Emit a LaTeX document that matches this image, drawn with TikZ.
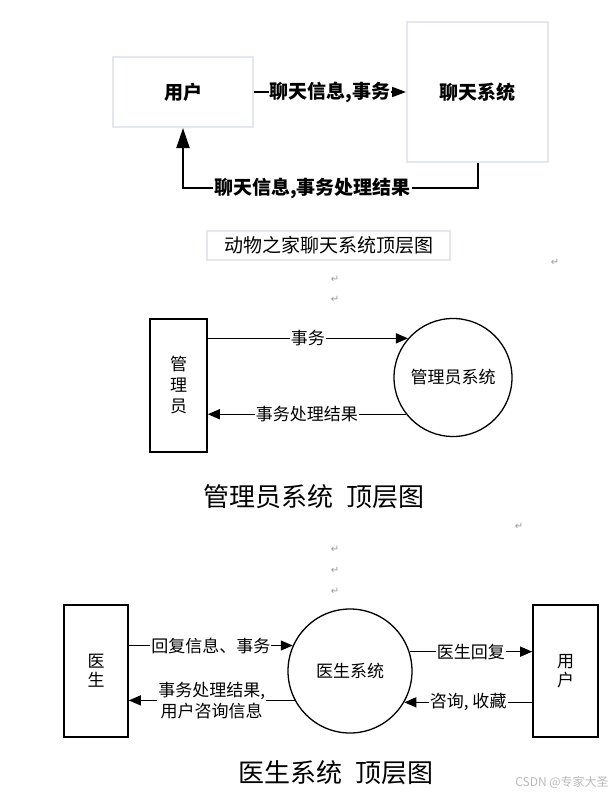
\documentclass[tikz,border=0pt]{standalone}
\usepackage{fontspec}
\setmainfont{Noto Sans CJK SC}
\newfontfamily\symfont{DejaVu Sans}
\usetikzlibrary{arrows.meta, positioning}
\definecolor{softline}{RGB}{228,231,237}
\newcommand\setfs[1]{\fontsize{#1}{#1}\selectfont}

\begin{document}
\begin{tikzpicture}[x=1pt, y=-1pt,
  softbox/.style={draw=softline, line width=2pt, fill=white},
  solidbox/.style={draw, line width=1.6pt, align=center, font=\fontsize{17}{19}\selectfont},
  proc/.style={draw, circle, line width=1.3pt, font=\setfs{17}},
  flow/.style={-{Triangle[length=12pt,width=10pt]}, line width=1.3pt},
  bigflow/.style={-{Triangle[length=14pt,width=10pt]}, line width=2pt},
  tag/.style={fill=white, inner sep=1pt, font=\setfs{17}},
  bigtag/.style={fill=white, inner sep=1pt, font=\bfseries\setfs{19}},
  pmark/.style={text=gray!80, font=\symfont\setfs{10}}]

\useasboundingbox (0,0) rectangle (613,792);

% Part 1: chat system, top level
\node[softbox, minimum width=140pt, minimum height=70pt, font=\bfseries\setfs{19}] (chatuser) at (183,92) {用户};
\node[softbox, minimum width=141pt, minimum height=140pt, font=\bfseries\setfs{19}] (chatsys) at (477.5,92) {聊天系统};
\coordinate (back) at (183,188);
\draw[bigflow] (chatuser) -- node[bigtag] {聊天信息,事务} (chatsys);
\draw[bigflow, -{Triangle[length=20pt,width=13pt]}] (chatsys.south) |- node[bigtag, pos=0.78] {聊天信息,事务处理结果} (back) -- (chatuser.south);
\node[softbox, minimum width=243pt, minimum height=29pt, font=\setfs{19}] (chattitle) at (328.5,245.5) {动物之家聊天系统顶层图};

% Part 2: admin system, top level
\node[solidbox, minimum width=57pt, minimum height=133pt, font=\fontsize{17}{21}\selectfont] (admin) at (178.5,385.5) {管\\理\\员};
\node[proc, minimum size=118pt] (adminsys) at (453,377.5) {管理员系统};
\draw[flow] (adminsys.139.3 -| admin.east) -- node[tag] {事务} (adminsys.139.3);
\draw[flow] (adminsys.218.2) -- node[tag] {事务处理结果} (adminsys.218.2 -| admin.east);
\node[font=\setfs{26}] (admintitle) at (314,497) {管理员系统\hspace{0.5em}顶层图};

% Part 3: doctor system, top level
\node[solidbox, minimum width=64pt, minimum height=132pt] (doctor) at (96,671) {医\\生};
\node[proc, minimum size=124pt] (docsys) at (350,671) {医生系统};
\node[solidbox, minimum width=65pt, minimum height=132pt] (docuser) at (565.5,671) {用\\户};
\draw[flow] (docsys.156.2 -| doctor.east) -- node[tag] {回复信息、事务} (docsys.156.2);
\draw[flow] (docsys.208.9) -- node[tag, align=center, font=\fontsize{17}{21}\selectfont] {事务处理结果,\\用户咨询信息} (docsys.208.9 -| doctor.east);
\draw[flow] (docsys.18.8) -- node[tag] {医生回复} (docsys.18.8 -| docuser.west);
\draw[flow] (docsys.330 -| docuser.west) -- node[tag] {咨询, 收藏} (docsys.330);
\node[font=\setfs{26}] (doctitle) at (336,773) {医生系统\hspace{0.5em}顶层图};

% paragraph marks and watermark
\foreach \px/\py [count=\k] in {555/262, 335/279, 335/299, 519/526, 335/549, 335/570, 335/591} {
  \node[pmark] (para\k) at (\px,\py) {↵};
}
\node[text=gray!55, font=\setfs{12}] (csdn) at (562,782) {CSDN @专家大圣};
\end{tikzpicture}
\end{document}
